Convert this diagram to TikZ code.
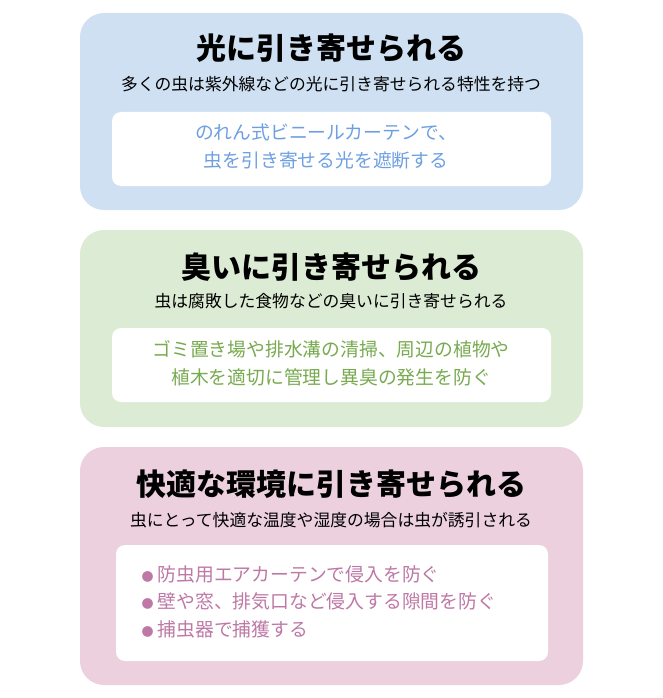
\documentclass[tikz,border=0pt]{standalone}
\usepackage{fontspec}
\setmainfont{Noto Sans CJK JP}
\usetikzlibrary{positioning}
\definecolor{bluepanel}{RGB}{207,224,242}
\definecolor{greenpanel}{RGB}{220,235,211}
\definecolor{pinkpanel}{RGB}{236,208,222}
\definecolor{bluetext}{RGB}{110,160,225}
\definecolor{greentext}{RGB}{120,170,80}
\definecolor{pinktext}{RGB}{190,120,165}
\tikzset{
  panel/.style={rounded corners=24pt},
  inner/.style={fill=white,rounded corners=9pt},
  title/.style={font=\fontsize{30}{34}\selectfont\bfseries},
  subtitle/.style={font=\fontsize{16.8}{20}\selectfont},
  tip/.style={font=\fontsize{18.8}{28}\selectfont,align=center},
  bullet/.style={font=\fontsize{18.8}{22}\selectfont,anchor=west,text=pinktext}
}
\begin{document}
\begin{tikzpicture}[x=1pt,y=-1pt]
\useasboundingbox (0,0) rectangle (663,698);
% panel 1
\fill[panel,bluepanel] (80,13) rectangle (583,210);
\fill[inner] (112,112) rectangle (551,186);
\node[title] (light) at (331,48) {光に引き寄せられる};
\node[subtitle] (lightsub) at (331,84) {多くの虫は紫外線などの光に引き寄せられる特性を持つ};
\node[tip,text=bluetext] (lighttip) at (326,146) {のれん式ビニールカーテンで、\\虫を引き寄せる光を遮断する};
% panel 2
\fill[panel,greenpanel] (80,230) rectangle (583,427);
\fill[inner] (112,328) rectangle (551,402);
\node[title] (smell) at (331,267) {臭いに引き寄せられる};
\node[subtitle] (smellsub) at (331,301) {虫は腐敗した食物などの臭いに引き寄せられる};
\node[tip,text=greentext] (smelltip) at (331,363) {ゴミ置き場や排水溝の清掃、周辺の植物や\\植木を適切に管理し異臭の発生を防ぐ};
% panel 3
\fill[panel,pinkpanel] (80,447) rectangle (583,685);
\fill[inner] (116,545) rectangle (548,661);
\node[title] (env) at (331,484) {快適な環境に引き寄せられる};
\node[subtitle] (envsub) at (331,520) {虫にとって快適な温度や湿度の場合は虫が誘引される};
\node[bullet] (tipa) at (138,574) {{\fontsize{12}{12}\selectfont ●} 防虫用エアカーテンで侵入を防ぐ};
\node[bullet] (tipb) at (138,601) {{\fontsize{12}{12}\selectfont ●} 壁や窓、排気口など侵入する隙間を防ぐ};
\node[bullet] (tipc) at (138,629) {{\fontsize{12}{12}\selectfont ●} 捕虫器で捕獲する};
\end{tikzpicture}
\end{document}
